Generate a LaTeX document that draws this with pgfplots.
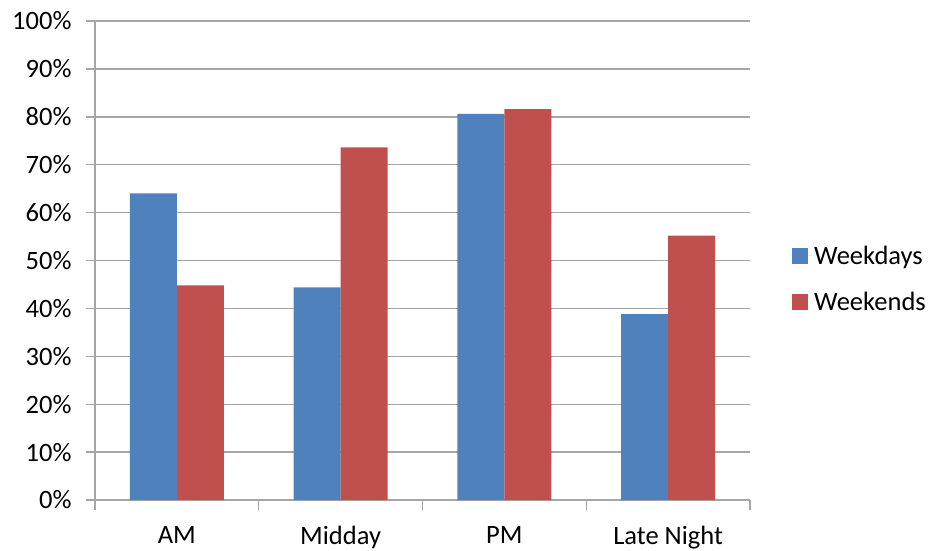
\documentclass[border=0pt]{standalone}
\usepackage{pgfplots}
\pgfplotsset{compat=1.18}
\usepackage{fontspec}
\setmainfont{Carlito}
\definecolor{wkday}{HTML}{4F81BD}
\definecolor{wkend}{HTML}{C0504D}
\definecolor{gridc}{HTML}{A6A6A6}
\begin{document}
\begin{tikzpicture}
\useasboundingbox (0,0) rectangle (930pt,550pt);
\begin{axis}[
  at={(95pt,50pt)}, anchor=south west,
  scale only axis, width=655pt, height=479pt,
  font=\fontsize{26.5}{31}\selectfont,
  ybar=0pt, bar width=47pt,
  xmin=-0.5, xmax=3.5, ymin=0, ymax=100,
  xtick={0,1,2,3},
  xticklabels={AM,Midday,PM,Late Night},
  major x tick style={draw=none},
  minor xtick={-0.5,0.5,1.5,2.5,3.5},
  minor x tick style={gridc, line width=1.2pt},
  ytick={0,10,...,100},
  yticklabel={\pgfmathprintnumber[assume math mode=true]{\tick}\%},
  ymajorgrids, grid style={gridc, line width=1.4pt},
  axis x line*=bottom, axis y line*=left,
  axis line style={gridc, line width=1.4pt, -},
  y tick style={gridc, line width=1.4pt},
  tick align=outside, major tick length=9pt, minor tick length=10pt,
  xticklabel style={yshift=-14pt},
  yticklabel style={xshift=-11pt},
  legend style={at={(1.061,0.535)}, anchor=north west, draw=none, fill=none,
    row sep=22pt, font=\fontsize{26.5}{31}\selectfont, inner sep=0pt},
  legend cell align=left,
  legend image code/.code={\path (0pt,0pt) -- (22pt,0pt);
    \fill[#1] (2pt,-8pt) rectangle (18pt,8pt);},
]
\addplot[fill=wkday, draw=none] coordinates {(0,64.0) (1,44.4) (2,80.6) (3,38.8)};
\addplot[fill=wkend, draw=none] coordinates {(0,44.8) (1,73.6) (2,81.6) (3,55.2)};
\legend{Weekdays,Weekends}
\end{axis}
\end{tikzpicture}
\end{document}
